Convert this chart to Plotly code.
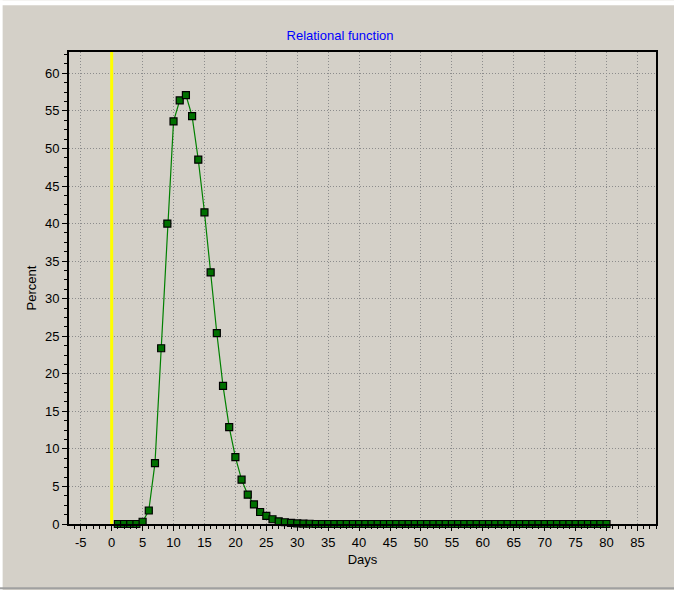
import plotly.graph_objects as go

days = list(range(1, 81))
percent_head = [0.0, 0.0, 0.0, 0.0, 0.3, 1.8, 8.1, 23.4, 40.0, 53.6,
                56.4, 57.1, 54.3, 48.5, 41.5, 33.5, 25.4, 18.4, 12.9, 8.9,
                5.9, 3.9, 2.6, 1.6, 1.07, 0.63, 0.36, 0.23, 0.15, 0.08,
                0.05, 0.03]
percent = percent_head + [0.0] * (len(days) - len(percent_head))

x_ticks = list(range(-5, 90, 5))
y_ticks = list(range(0, 65, 5))

W, H = 674, 590
L, R, T, B = 69.3, 655.7, 51.7, 523.7
pw, ph = R - L, B - T


def px(x):
    return (x - L) / pw


def py(y):
    return (B - y) / ph


fig = go.Figure()
fig.add_trace(go.Scatter(
    x=days, y=percent, mode="lines+markers",
    line=dict(color="#008000", width=1.2),
    marker=dict(symbol="square", size=7, color="#007000",
                line=dict(color="#000000", width=1.2)),
    cliponaxis=False, showlegend=False, hoverinfo="x+y"))

shapes = [
    dict(type="line", xref="x", yref="paper", x0=0, x1=0, y0=0, y1=1,
         line=dict(color="#FFFF00", width=3), layer="above"),
    # window frame edges
    dict(type="rect", xref="paper", yref="paper", x0=px(0), x1=px(W),
         y0=py(5), y1=py(0), fillcolor="#FFFFFF", line=dict(width=0), layer="below"),
    dict(type="rect", xref="paper", yref="paper", x0=px(0), x1=px(3),
         y0=py(H), y1=py(0), fillcolor="#FFFFFF", line=dict(width=0), layer="below"),
    dict(type="rect", xref="paper", yref="paper", x0=px(0), x1=px(W),
         y0=py(589), y1=py(587), fillcolor="#A0A0A0", line=dict(width=0), layer="below"),
]

tfont = dict(family="Liberation Sans, Arial", size=13, color="#000000")
axis_common = dict(
    showline=True, linecolor="#000000", linewidth=2, mirror=True,
    showgrid=True, gridcolor="#8C8C8C", griddash="1px,2px", gridwidth=1,
    zeroline=False, ticks="outside", ticklen=5, tickcolor="#000000",
    tickfont=tfont,
)

fig.update_layout(
    width=W, height=H,
    margin=dict(l=L, r=W - R, t=T, b=H - B),
    paper_bgcolor="#D4D0C8", plot_bgcolor="#D4D0C8",
    font=dict(family="Liberation Sans, Arial", size=13, color="#000000"),
    title=dict(text="Relational function", x=(340) / W, xanchor="center",
               y=1 - 35 / H, yanchor="middle",
               font=dict(color="#0000FF", size=13, family="Liberation Sans, Arial")),
    xaxis=dict(range=[-6.9, 88.0], tickvals=x_ticks, ticktext=[str(v) for v in x_ticks],
               title=dict(text="Days", standoff=6, font=tfont),
               minor=dict(dtick=1, ticks="outside", ticklen=3, tickcolor="#000000", showgrid=False),
               **axis_common),
    yaxis=dict(range=[0, 62.84], tickvals=y_ticks, ticktext=[str(v) for v in y_ticks],
               title=dict(text="Percent", standoff=5, font=tfont),
               minor=dict(dtick=1.25, ticks="outside", ticklen=3, tickcolor="#000000", showgrid=False),
               **axis_common),
    shapes=shapes,
)

fig.write_html("out.html", config={"displayModeBar": False},
               post_script="document.body.style.margin='0';document.body.style.padding='0';")
